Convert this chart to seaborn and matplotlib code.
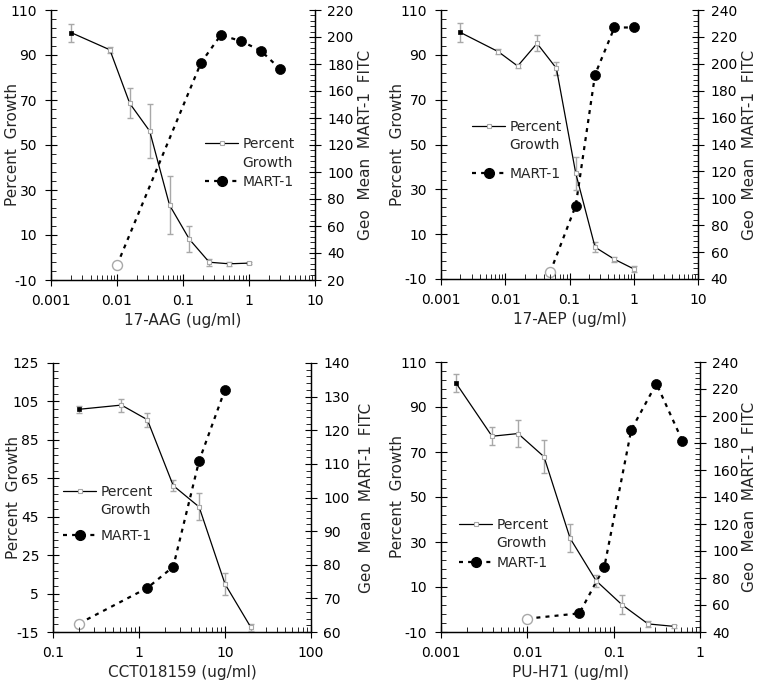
import numpy as np
import pandas as pd
import matplotlib
matplotlib.use("Agg")
import matplotlib.pyplot as plt
import seaborn as sns
from matplotlib.lines import Line2D
from matplotlib.ticker import FixedLocator, LogLocator, NullFormatter, FuncFormatter

# ---------------- data ----------------
# Panel A: 17-AAG
aag_pg_x = [0.002, 0.0078, 0.0156, 0.03125, 0.0625, 0.125, 0.25, 0.5, 1.0]
aag_pg_y = [100.0, 92.3, 68.5, 56.2, 23.3, 8.1, -2.1, -2.8, -2.5]
aag_pg_err = [4.0, 1.2, 6.7, 12.0, 13.0, 5.8, 1.5, 0.9, 0.6]
aag_mart_x = [0.01, 0.1875, 0.375, 0.75, 1.5, 3.0]
aag_mart_y = [31.0, 181.0, 201.5, 197.0, 190.0, 176.0]

# Panel B: 17-AEP
aep_pg_x = [0.002, 0.0078, 0.0156, 0.03125, 0.0625, 0.125, 0.25, 0.5, 1.0]
aep_pg_y = [100.0, 91.4, 85.0, 95.1, 84.0, 37.2, 4.2, -1.2, -5.5]
aep_pg_err = [4.2, 1.0, 1.0, 3.6, 2.8, 7.4, 2.3, 1.0, 1.3]
aep_mart_x = [0.05, 0.125, 0.25, 0.5, 1.0]
aep_mart_y = [45.0, 94.5, 192.0, 227.0, 227.0]

# Panel C: CCT018159
cct_pg_x = [0.2, 0.625, 1.25, 2.5, 5.0, 10.0, 20.0]
cct_pg_y = [100.9, 103.1, 95.5, 61.2, 50.1, 10.0, -12.6]
cct_pg_err = [1.8, 3.4, 3.7, 3.0, 7.0, 5.9, 1.9]
cct_mart_x = [0.2, 1.25, 2.5, 5.0, 10.0]
cct_mart_y = [62.5, 73.1, 79.4, 110.9, 132.1]

# Panel D: PU-H71
puh_pg_x = [0.0015, 0.0039, 0.0078, 0.0156, 0.03125, 0.0625, 0.125, 0.25, 0.5]
puh_pg_y = [100.5, 77.0, 78.2, 67.9, 31.7, 12.8, 2.1, -6.4, -7.5]
puh_pg_err = [4.0, 4.0, 6.0, 7.3, 6.2, 2.7, 4.3, 1.5, 0.6]
puh_mart_x = [0.01, 0.04, 0.078, 0.16, 0.3125, 0.625]
puh_mart_y = [49.9, 53.8, 88.3, 189.8, 224.0, 181.6]

xlabels = ["17-AAG (ug/ml)", "17-AEP (ug/ml)", "CCT018159 (ug/ml)", "PU-H71 (ug/ml)"]
left_label = "Percent  Growth"
right_label = "Geo  Mean  MART-1  FITC"
legend_labels = ["Percent", "Growth", "MART-1"]

# ---------------- style ----------------
sns.set_theme(style="ticks")
plt.rcParams["font.family"] = ["DejaVu Sans"]
FS_TICK = 10
FS_LAB = 11
FS_LEG = 10

W, H = 764, 690
fig = plt.figure(figsize=(W / 100, H / 100), dpi=100)

def px_rect(l, r, t, b):
    return [l / W, (H - b) / H, (r - l) / W, (b - t) / H]

panels = [
    dict(rect=px_rect(51, 315, 10, 280), pgx=aag_pg_x, pgy=aag_pg_y, pge=aag_pg_err,
         mx=aag_mart_x, my=aag_mart_y, xlim=(0.001, 10), ylim=(-10, 110), ystep=20,
         y2lim=(20, 220), y2step=20, xl=xlabels[0],
         legx=205, legy=(144, 163, 182), lcx=-0.117, rcx=1.163),
    dict(rect=px_rect(441, 698, 10, 279), pgx=aep_pg_x, pgy=aep_pg_y, pge=aep_pg_err,
         mx=aep_mart_x, my=aep_mart_y, xlim=(0.001, 10), ylim=(-10, 110), ystep=20,
         y2lim=(40, 240), y2step=20, xl=xlabels[1],
         legx=472, legy=(127, 145, 174), lcx=-0.14, rcx=1.171),
    dict(rect=px_rect(53, 311, 363, 632), pgx=cct_pg_x, pgy=cct_pg_y, pge=cct_pg_err,
         mx=cct_mart_x, my=cct_mart_y, xlim=(0.1, 100), ylim=(-15, 125), ystep=20,
         y2lim=(60, 140), y2step=10, xl=xlabels[2],
         legx=63, legy=(492, 510, 536), lcx=-0.124, rcx=1.186),
    dict(rect=px_rect(441, 700, 362, 632), pgx=puh_pg_x, pgy=puh_pg_y, pge=puh_pg_err,
         mx=puh_mart_x, my=puh_mart_y, xlim=(0.001, 1), ylim=(-10, 110), ystep=20,
         y2lim=(40, 240), y2step=20, xl=xlabels[3],
         legx=459, legy=(525, 543, 563), lcx=-0.139, rcx=1.162),
]

def fmt_x(v, pos):
    return ("%f" % v).rstrip("0").rstrip(".")

GRAY = "#a8a8a8"
DOT = (0, (1.8, 2.3))

for p in panels:
    ax = fig.add_axes(p["rect"])
    ax2 = ax.twinx()
    ax.set_zorder(ax2.get_zorder() + 1)
    ax.patch.set_visible(False)

    df_pg = pd.DataFrame({"x": p["pgx"], "y": p["pgy"], "err": p["pge"]})
    df_m = pd.DataFrame({"x": p["mx"], "y": p["my"]})

    # MART-1 (right axis)
    sns.lineplot(data=df_m, x="x", y="y", ax=ax2, color="black", lw=1.6,
                 linestyle=DOT, legend=False, zorder=2)
    sns.scatterplot(data=df_m.iloc[1:], x="x", y="y", ax=ax2, color="black", s=52,
                    edgecolor="black", linewidth=0.5, legend=False, zorder=3, clip_on=False)
    sns.scatterplot(data=df_m.iloc[:1], x="x", y="y", ax=ax2, facecolor="white", s=52,
                    edgecolor=GRAY, linewidth=1.0, legend=False, zorder=3, clip_on=False)

    # Percent growth (left axis)
    ax.errorbar(df_pg["x"], df_pg["y"], yerr=df_pg["err"], fmt="none", ecolor=GRAY,
                elinewidth=1.0, capsize=2.5, capthick=1.0, zorder=1)
    sns.lineplot(data=df_pg, x="x", y="y", ax=ax, color="black", lw=0.9, legend=False, zorder=2)
    sns.scatterplot(data=df_pg.iloc[1:], x="x", y="y", ax=ax, marker="s", s=9,
                    facecolor="white", edgecolor=GRAY, linewidth=0.8, legend=False, zorder=3)
    sns.scatterplot(data=df_pg.iloc[:1], x="x", y="y", ax=ax, marker="s", s=12,
                    color="black", edgecolor="black", linewidth=0.5, legend=False, zorder=3)

    for a in (ax, ax2):
        a.set_xscale("log")
        a.set_xlim(*p["xlim"])
        a.spines["top"].set_visible(False)
        for s in a.spines.values():
            s.set_linewidth(0.9)
            s.set_color("black")

    y0, y1 = p["ylim"]
    ax.set_ylim(y0, y1)
    ax.yaxis.set_major_locator(FixedLocator(np.arange(y0, y1 + 0.1, p["ystep"])))
    ax.yaxis.set_minor_locator(FixedLocator(np.arange(y0, y1 + 0.1, p["ystep"] / 5)))
    r0, r1 = p["y2lim"]
    ax2.set_ylim(r0, r1)
    ax2.yaxis.set_major_locator(FixedLocator(np.arange(r0, r1 + 0.1, p["y2step"])))
    ax2.yaxis.set_minor_locator(FixedLocator(np.arange(r0, r1 + 0.1, p["y2step"] / 5)))

    ax.xaxis.set_major_locator(LogLocator(base=10))
    ax.xaxis.set_minor_locator(LogLocator(base=10, subs=np.arange(2, 10)))
    ax.xaxis.set_major_formatter(FuncFormatter(fmt_x))
    ax.xaxis.set_minor_formatter(NullFormatter())
    ax.yaxis.set_major_formatter(FuncFormatter(lambda v, pos: "%d" % round(v)))
    ax2.yaxis.set_major_formatter(FuncFormatter(lambda v, pos: "%d" % round(v)))

    ax.tick_params(axis="both", which="major", direction="inout", length=8, width=0.8,
                   labelsize=FS_TICK, colors="black", pad=6)
    ax.tick_params(axis="both", which="minor", direction="in", length=3.5, width=0.7)
    ax2.tick_params(axis="y", which="major", direction="inout", length=8, width=0.8,
                    labelsize=FS_TICK, colors="black", pad=5)
    ax2.tick_params(axis="y", which="minor", direction="in", length=3.5, width=0.7)
    ax2.tick_params(axis="x", which="both", bottom=False, labelbottom=False)

    ax.set_xlabel(p["xl"], fontsize=FS_LAB, labelpad=4)
    ax.set_ylabel(left_label, fontsize=FS_LAB)
    ax.yaxis.set_label_coords(p["lcx"], 0.5)
    ax2.set_ylabel(right_label, fontsize=FS_LAB)
    ax2.yaxis.set_label_coords(p["rcx"], 0.5)

    handles = [
        Line2D([0], [0], color="black", lw=0.9, marker="s", markersize=2.5,
               markerfacecolor="white", markeredgecolor=GRAY, markeredgewidth=0.8),
        Line2D([0], [0], color="none", lw=0.9),
        Line2D([0], [0], color="black", lw=1.6, linestyle=DOT, marker="o",
               markersize=7, markerfacecolor="black", markeredgecolor="black"),
    ]
    for h, lab, yy in zip(handles, legend_labels, p["legy"]):
        fig.legend([h], [lab], loc="center left",
                   bbox_to_anchor=(p["legx"] / W, 1 - yy / H),
                   bbox_transform=fig.transFigure,
                   frameon=False, fontsize=FS_LEG, handlelength=2.4,
                   handletextpad=0.3, borderpad=0, borderaxespad=0)

fig.savefig("out.png", dpi=100)
